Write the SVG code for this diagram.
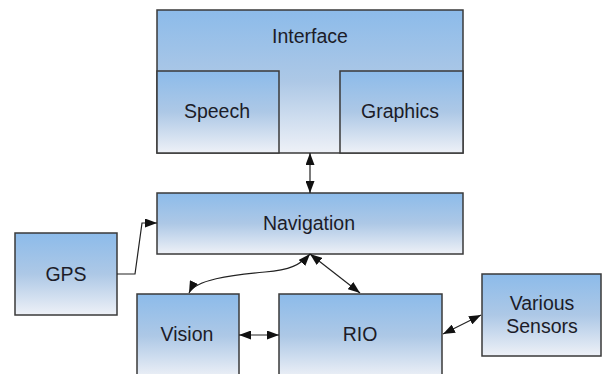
<svg xmlns="http://www.w3.org/2000/svg" width="603" height="374" viewBox="0 0 603 374">
<defs>
<linearGradient id="g" x1="0" y1="0" x2="0" y2="1">
<stop offset="0" stop-color="#8cbbea"/>
<stop offset="0.5" stop-color="#adc8e6"/>
<stop offset="1" stop-color="#eef1f7"/>
</linearGradient>
<marker id="ah" viewBox="0 0 12 9" refX="12" refY="4.5" markerWidth="12" markerHeight="9" markerUnits="userSpaceOnUse" orient="auto-start-reverse">
<path d="M0,0 L12,4.5 L0,9 Z" fill="#111"/>
</marker>
</defs>
<style>
.box{fill:url(#g);stroke:#3a3a3a;stroke-width:1.5}
.lbl{font-family:"Liberation Sans",Arial,sans-serif;font-size:19.5px;fill:#1c1c28;text-anchor:middle;dominant-baseline:central}
.c{fill:none;stroke:#222;stroke-width:1.2;marker-start:url(#ah);marker-end:url(#ah)}
</style>
<rect width="603" height="374" fill="#fff"/>
<g id="interface">
<rect class="box" x="157" y="10" width="306" height="143"/>
<text class="lbl" x="310" y="36">Interface</text>
</g>
<g id="speech">
<rect class="box" x="157" y="71" width="122" height="82"/>
<text class="lbl" x="217" y="111">Speech</text>
</g>
<g id="graphics">
<rect class="box" x="340" y="71" width="123" height="82"/>
<text class="lbl" x="400" y="111">Graphics</text>
</g>
<g id="navigation">
<rect class="box" x="157" y="193" width="306" height="61"/>
<text class="lbl" x="309" y="223">Navigation</text>
</g>
<g id="gps">
<rect class="box" x="15" y="233" width="102" height="82"/>
<text class="lbl" x="66" y="274">GPS</text>
</g>
<g id="vision">
<rect class="box" x="137" y="294" width="102" height="84"/>
<text class="lbl" x="187" y="334">Vision</text>
</g>
<g id="rio">
<rect class="box" x="279" y="294" width="163" height="84"/>
<text class="lbl" x="360" y="334">RIO</text>
</g>
<g id="sensors">
<rect class="box" x="482" y="274" width="119" height="82"/>
<text class="lbl" x="542" y="303">Various</text>
<text class="lbl" x="542" y="326">Sensors</text>
</g>
<g id="connectors">
<path class="c" d="M310,153 L310,193"/>
<path fill="none" stroke="#222" stroke-width="1.2" marker-end="url(#ah)" d="M117,274 L135,274 L142,223 L157,223"/>
<path class="c" d="M189,293 C195,280 230,275 265,272 C290,270 300,265 310,254"/>
<path class="c" d="M310,254 L360,293"/>
<path class="c" d="M239,335 L279,335"/>
<path class="c" d="M443,334 L481,315"/>
</g>
</svg>
